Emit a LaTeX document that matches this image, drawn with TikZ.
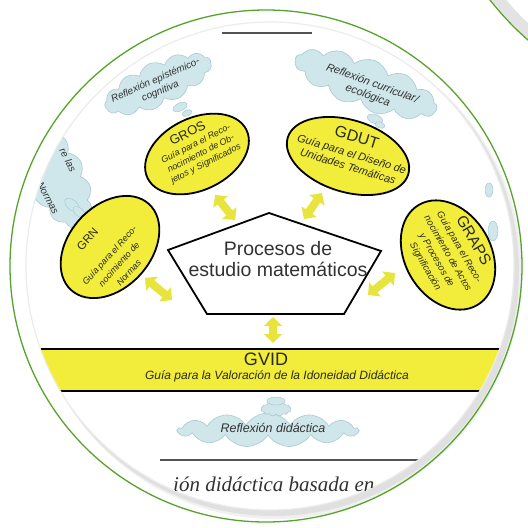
\documentclass[tikz,border=0pt]{standalone}
\usepackage{fontspec}
\setmainfont{Liberation Sans}
\newfontfamily\serifit{Liberation Serif}
\usetikzlibrary{shapes.geometric,shapes.symbols,arrows.meta}
\definecolor{ylw}{RGB}{242,236,58}
\definecolor{arry}{RGB}{232,228,62}
\definecolor{cloudf}{RGB}{207,230,235}
\definecolor{cloudd}{RGB}{168,202,210}
\definecolor{ringg}{RGB}{86,164,44}
\definecolor{txtc}{RGB}{42,42,28}
\definecolor{dtxt}{RGB}{50,50,50}
\tikzset{
 ell/.style={ellipse, draw=black, line width=1.8pt, fill=ylw, inner sep=0pt},
 acr/.style={text=txtc, inner sep=0pt},
 desc/.style={text=txtc, align=center, inner sep=0pt},
 cloudn/.style={cloud, cloud puffs=13, cloud puff arc=115, cloud ignores aspect, fill=cloudf, draw=cloudd, line width=0.6pt, inner sep=0pt},
 puff/.style={ellipse, fill=cloudf, draw=cloudd, line width=0.5pt, inner sep=0pt},
 ctext/.style={text=dtxt, align=center, inner sep=0pt},
 yarr/.style={draw=arry, line width=8pt, {Triangle[length=9pt,width=18pt]}-{Triangle[length=9pt,width=18pt]}},
 rule/.style={draw=gray!65!black, line width=1.3pt},
}
\begin{document}
\begin{tikzpicture}[x=1pt,y=-1pt]
\useasboundingbox (0,0) rectangle (528,528);
\fill[white] (0,0) rectangle (528,528);
% second lens, top right
\begin{scope}
\clip (0,0) rectangle (528,528);
\fill[gray!22] (720,-180) circle (291);
\fill[white] (724,-184) circle (285);
\draw[ringg, line width=1.3pt] (720,-180) circle (292);
\end{scope}
% main lens
\fill[gray!12] (276,273) circle (246);
\fill[gray!24] (274,271) circle (245);
\fill[white] (270,266) circle (244);
\draw[gray!15, line width=1.2pt] (270,266) circle (244);
\draw[ringg, line width=1.3pt] (266,266) circle (256);
\begin{scope}
\clip (270,266) circle (243.4);
% top rule
\coordinate (tl1) at (222,33); \coordinate (tl2) at (312,33);
\draw[rule] (tl1) -- (tl2);
% clouds
\node[cloudn, minimum width=115, minimum height=44, rotate=24] (cl1) at (158,84) {};
\node[puff, minimum width=15, minimum height=8, rotate=24] (cl1a) at (180,107) {};
\node[puff, minimum width=10, minimum height=6, rotate=24] (cl1b) at (187,113) {};
\node[ctext, font=\itshape\fontsize{10}{12}\selectfont, rotate=24] (t1) at (158,86) {Reflexión epistémico-\\cognitiva};
\node[cloudn, minimum width=150, minimum height=50, rotate=-20] (cl2) at (366,84) {};
\node[puff, minimum width=16, minimum height=9, rotate=-20] (cl2a) at (375,119) {};
\node[puff, minimum width=10, minimum height=6, rotate=-20] (cl2b) at (380,125) {};
\node[ctext, font=\itshape\fontsize{11}{13}\selectfont, rotate=-20] (t2) at (370,90) {Reflexión curricular/\\ecológica};
\node[cloudn, minimum width=115, minimum height=58, rotate=-62] (cl3) at (55,175) {};
\node[puff, minimum width=17, minimum height=10, rotate=-40] (cl3a) at (72,205) {};
\node[puff, minimum width=14, minimum height=8, rotate=-40] (cl3b) at (79,212) {};
\node[puff, minimum width=10, minimum height=7, rotate=-40] (cl3c) at (85,219) {};
\node[ctext, font=\itshape\fontsize{10}{12}\selectfont, rotate=-62] (t3a) at (68,160) {re las};
\node[ctext, font=\itshape\fontsize{10}{12}\selectfont, rotate=-62] (t3b) at (48,198) {Normas};
\node[puff, minimum width=8, minimum height=14] (cl5a) at (489,190) {};
\node[puff, minimum width=10, minimum height=20] (cl5b) at (493,231) {};
\node[cloudn, minimum width=180, minimum height=34] (cl4) at (268,430) {};
\node[cloudn, minimum width=30, minimum height=14] (cl4a) at (276,409) {};
\node[puff, minimum width=18, minimum height=8] (cl4b) at (276,401) {};
\node[ctext, font=\itshape\fontsize{12.5}{14}\selectfont] (t4) at (273,428) {Reflexión didáctica};
% ellipses
\node[ell, minimum width=110, minimum height=72, rotate=26] (gros) at (197,154) {};
\node[acr, font=\fontsize{13}{14}\selectfont, rotate=27] (grosA) at (187.5,133) {GROS};
\node[desc, font=\itshape\fontsize{9}{11}\selectfont, rotate=27] (grosD) at (201,154) {Guía para el Reco-\\nocimiento de Ob-\\jetos y Significados};
\node[ell, minimum width=126, minimum height=72, rotate=-17] (gdut) at (348,156) {};
\node[acr, font=\fontsize{16}{18}\selectfont, rotate=-17] (gdutA) at (357,137) {GDUT};
\node[desc, font=\itshape\fontsize{11}{13}\selectfont, rotate=-17] (gdutD) at (350,160) {Guía para el Diseño de\\Unidades Temáticas};
\node[ell, minimum width=116, minimum height=82, rotate=48] (grn) at (110,247) {};
\node[acr, font=\fontsize{11.5}{13}\selectfont, rotate=48] (grnA) at (87.5,239) {GRN};
\node[desc, font=\itshape\fontsize{9}{13}\selectfont, rotate=48] (grnD) at (119,264) {Guía para el Reco-\\nocimiento de\\Normas};
\node[ell, minimum width=116, minimum height=86, rotate=-60] (graps) at (448,255) {};
\node[acr, font=\fontsize{15.5}{17}\selectfont, rotate=-60] (grapsA) at (474,240) {GRAPS};
\node[desc, font=\itshape\fontsize{9.5}{13}\selectfont, rotate=-60] (grapsD) at (442,257) {Guía para el Reco-\\nocimiento de Actos\\y Procesos de\\Significación};
% pentagon
\coordinate (pa) at (269,213); \coordinate (pb) at (381,251); \coordinate (pc) at (344,314);
\coordinate (pd) at (207,314); \coordinate (pe) at (168,250);
\filldraw[fill=white, draw=black, line width=1.8pt] (pa) -- (pb) -- (pc) -- (pd) -- (pe) -- cycle;
\node[text=dtxt, align=center, font=\fontsize{19.5}{21}\selectfont, inner sep=0pt] (proc) at (278,259) {Procesos de\\estudio matemáticos};
% arrows
\coordinate (a1s) at (215,195); \coordinate (a1e) at (235,220);
\coordinate (a2s) at (322,193); \coordinate (a2e) at (304,219);
\coordinate (a3s) at (145,278); \coordinate (a3e) at (172,300);
\coordinate (a4s) at (395,273); \coordinate (a4e) at (368,295);
\coordinate (a5s) at (273,317); \coordinate (a5e) at (273,343);
\draw[yarr] (a1s) -- (a1e);
\draw[yarr] (a2s) -- (a2e);
\draw[yarr] (a3s) -- (a3e);
\draw[yarr] (a4s) -- (a4e);
\draw[yarr] (a5s) -- (a5e);
% GVID band
\fill[ylw] (0,348.5) rectangle (528,391);
\coordinate (b1l) at (0,348.5); \coordinate (b1r) at (528,348.5);
\coordinate (b2l) at (0,391); \coordinate (b2r) at (528,391);
\draw[black, line width=2pt] (b1l) -- (b1r) (b2l) -- (b2r);
\node[acr, font=\fontsize{18}{20}\selectfont] (gvid) at (266,359) {GVID};
\node[desc, font=\itshape\fontsize{12}{14}\selectfont] (gvidD) at (277,376.5) {Guía para la Valoración de la Idoneidad Didáctica};
% bottom rule and text
\coordinate (bl1) at (160,460); \coordinate (bl2) at (528,460);
\draw[rule] (bl1) -- (bl2);
\node[font=\serifit\itshape\fontsize{21}{23}\selectfont, text=dtxt, anchor=base west, inner sep=0pt] (bt) at (173,491) {ión didáctica basada en};
\end{scope}
\end{tikzpicture}
\end{document}
